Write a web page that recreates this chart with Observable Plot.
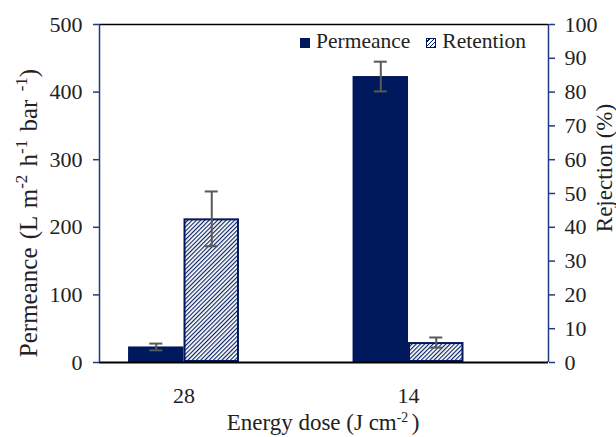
<!DOCTYPE html>
<html><head><meta charset="utf-8">
<script src="https://cdn.jsdelivr.net/npm/d3@7"></script>
<script src="https://cdn.jsdelivr.net/npm/@observablehq/plot@0.6"></script>
<style>
body{margin:0;background:#fff;}
#wrap{position:relative;width:616px;height:437px;font-family:"Liberation Serif","Times New Roman",serif;color:#222;overflow:hidden;}
.t{position:absolute;white-space:nowrap;font-size:23px;line-height:1;font-family:"Liberation Serif","Times New Roman",serif;}
.t sup{font-size:0.6em;vertical-align:baseline;position:relative;top:-0.6em;}
#yl{font-size:25px;word-spacing:2px;}
#yl sup{font-size:0.68em;}
#legend{position:absolute;left:300px;top:31px;font-size:21.5px;line-height:1;white-space:nowrap;font-family:"Liberation Serif","Times New Roman",serif;}
.sw{display:inline-block;width:10px;height:10px;box-sizing:border-box;margin-right:6px;}
.sw.p{background:#00185c;}
.sw.r{border:1.5px solid #00185c;background:repeating-linear-gradient(-45deg,#00185c 0 1px,#fff 1px 3px);}
</style></head>
<body>
<div id="wrap">
<div id="chart"></div>
<div id="legend"><span class="sw p"></span>Permeance<span style="display:inline-block;width:16px"></span><span class="sw r"></span>Retention</div>
<div class="t" id="xt" style="left:323px;top:411px;transform:translateX(-50%)">Energy dose (J cm<sup>-2 </sup>)</div>
<div class="t" id="yl" style="left:28px;top:213px;transform:translate(-50%,-50%) rotate(-90deg)">Permeance (L m<sup>-2</sup> h<sup>-1</sup> bar <sup>-1</sup>)</div>
<div class="t" id="yr" style="left:604px;top:168px;transform:translate(-50%,-50%) rotate(-90deg)">Rejection (%)</div>
</div>
<script>
// ---- data ----
const categories = ["28", "14"];
const permeance = [23, 423];
const permeanceErr = [5, 22];
const retention = [42.5, 5.9];
const retentionErr = [8.1, 1.5];
const leftTicks = [0, 100, 200, 300, 400, 500];
const rightTicks = [0, 10, 20, 30, 40, 50, 60, 70, 80, 90, 100];

// ---- layout (Excel-like clustered bars with 3 slots per category) ----
const NAVY = "#00185c";
const AXIS = "#1f3b82";
const ERR = "#595959";
const slotW = 1 / (3 + 2 * 0.524);
const gap = 0.524 * slotW;
const capHalf = 0.029;
const rScale = 5; // rejection % -> left-axis units

const rows = categories.map((cat, i) => ({
  cat, i,
  perm: permeance[i], permErr: permeanceErr[i],
  ret: retention[i] * rScale, retErr: retentionErr[i] * rScale
}));
const bars = rows.flatMap(r => [
  {series: "Permeance", x1: r.i + gap, x2: r.i + gap + slotW, v: r.perm, e: r.permErr},
  {series: "Retention", x1: r.i + gap + slotW, x2: r.i + gap + 2 * slotW, v: r.ret, e: r.retErr}
]).map(b => ({...b, c: (b.x1 + b.x2) / 2, lo: b.v - b.e, hi: b.v + b.e}));

const chart = Plot.plot({
  width: 616,
  height: 437,
  marginLeft: 99,
  marginRight: 68,
  marginTop: 24,
  marginBottom: 75,
  style: {fontFamily: "Liberation Serif, Times New Roman, serif", fontSize: "22px", color: "#222", background: "#fff"},
  x: {domain: [0, categories.length], axis: null},
  y: {domain: [0, 500], axis: null},
  marks: [
    Plot.rect(bars.filter(b => b.series === "Permeance"), {x1: "x1", x2: "x2", y1: 0, y2: "v", fill: NAVY}),
    Plot.rect(bars.filter(b => b.series === "Retention"), {x1: "x1", x2: "x2", y1: 0, y2: "v", fill: "url(#hatch)", stroke: NAVY, strokeWidth: 2, inset: 1}),
    Plot.ruleX(bars, {x: "c", y1: "lo", y2: "hi", stroke: ERR, strokeWidth: 2}),
    Plot.ruleY(bars, {y: "hi", x1: d => d.c - capHalf, x2: d => d.c + capHalf, stroke: ERR, strokeWidth: 2}),
    Plot.ruleY(bars, {y: "lo", x1: d => d.c - capHalf, x2: d => d.c + capHalf, stroke: ERR, strokeWidth: 2}),
    Plot.ruleY([0], {stroke: "#000", strokeWidth: 2}),
    Plot.ruleY([500], {stroke: "#000", strokeWidth: 1.5}),
    Plot.ruleX([0], {stroke: AXIS, strokeWidth: 1.5}),
    Plot.ruleX([categories.length], {stroke: AXIS, strokeWidth: 1.5}),
    Plot.axisY(leftTicks, {anchor: "left", tickSize: 6, tickPadding: 11, stroke: AXIS, strokeWidth: 1.5, fill: "#222", label: null, fontSize: 22}),
    Plot.axisY(rightTicks.map(v => v * rScale), {anchor: "right", tickSize: 6, tickPadding: 10, tickFormat: d => d / rScale, stroke: AXIS, strokeWidth: 1.5, fill: "#222", label: null, fontSize: 22}),
    Plot.text(rows, {x: r => r.i + gap + slotW, text: "cat", frameAnchor: "bottom", lineAnchor: "top", dy: 25, fontSize: 22, fill: "#222"})
  ]
});

const defs = d3.select(chart).insert("defs", ":first-child");
const pat = defs.append("pattern").attr("id", "hatch").attr("patternUnits", "userSpaceOnUse")
  .attr("width", 3).attr("height", 3).attr("patternTransform", "rotate(45)");
pat.append("rect").attr("width", 3).attr("height", 3).attr("fill", "#fff");
pat.append("line").attr("x1", 0.6).attr("y1", 0).attr("x2", 0.6).attr("y2", 3).attr("stroke", NAVY).attr("stroke-width", 1.1);

document.getElementById("chart").appendChild(chart);
</script>
</body></html>
